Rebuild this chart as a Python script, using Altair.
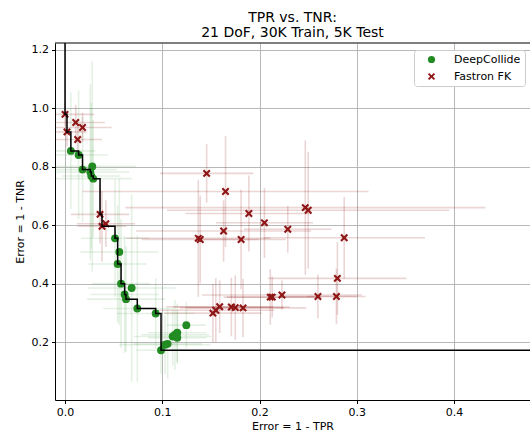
import altair as alt
import pandas as pd

# ---------------- data ----------------
series_names = ["DeepCollide", "Fastron FK"]

dc_x = [0.006, 0.014, 0.018, 0.028, 0.026, 0.027, 0.029, 0.0514, 0.0558, 0.0541, 0.0576, 0.0685,
        0.0613, 0.0627, 0.0743, 0.0932, 0.1247, 0.1154, 0.113, 0.1107, 0.1154, 0.1055, 0.1028, 0.0987]
dc_y = [0.854, 0.840, 0.790, 0.801, 0.782, 0.768, 0.759, 0.555, 0.508, 0.467, 0.400, 0.385,
        0.363, 0.347, 0.315, 0.298, 0.258, 0.232, 0.225, 0.219, 0.215, 0.194, 0.191, 0.172]
dc_xerr = [0.025, 0.03, 0.035, 0.045, 0.04, 0.03, 0.04, 0.035, 0.04, 0.03, 0.03, 0.045,
           0.035, 0.04, 0.035, 0.04, 0.02, 0.03, 0.035, 0.04, 0.03, 0.035, 0.047, 0.025]
dc_yerr = [0.20, 0.22, 0.18, 0.36, 0.30, 0.25, 0.20, 0.20, 0.25, 0.20, 0.22, 0.32,
           0.20, 0.18, 0.25, 0.12, 0.08, 0.10, 0.12, 0.10, 0.09, 0.12, 0.10, 0.08]

ff_x = [0.000, 0.002, 0.011, 0.018, 0.013, 0.036, 0.038, 0.042, 0.1456, 0.165, 0.189, 0.205,
        0.247, 0.250, 0.163, 0.229, 0.137, 0.139, 0.181, 0.287, 0.280, 0.211, 0.213, 0.223,
        0.260, 0.279, 0.152, 0.155, 0.159, 0.171, 0.175, 0.183]
ff_y = [0.979, 0.919, 0.951, 0.934, 0.893, 0.637, 0.596, 0.605, 0.777, 0.715, 0.640, 0.608,
        0.660, 0.651, 0.580, 0.586, 0.555, 0.551, 0.551, 0.557, 0.418, 0.354, 0.354, 0.361,
        0.356, 0.356, 0.299, 0.309, 0.321, 0.320, 0.318, 0.317]
ff_xerr = [0.03, 0.02, 0.03, 0.03, 0.025, 0.03, 0.025, 0.03, 0.048, 0.147, 0.065, 0.05,
           0.185, 0.145, 0.09, 0.045, 0.074, 0.06, 0.046, 0.083, 0.071, 0.045, 0.05, 0.082,
           0.04, 0.03, 0.05, 0.06, 0.055, 0.06, 0.05, 0.065]
ff_yerr = [0.04, 0.05, 0.06, 0.05, 0.05, 0.10, 0.12, 0.08, 0.10, 0.19, 0.13, 0.12,
           0.23, 0.20, 0.105, 0.08, 0.20, 0.15, 0.17, 0.14, 0.125, 0.095, 0.07, 0.05,
           0.075, 0.095, 0.10, 0.11, 0.09, 0.10, 0.11, 0.10]

x_ticks = [0.0, 0.1, 0.2, 0.3, 0.4]
y_ticks = [0.2, 0.4, 0.6, 0.8, 1.0, 1.2]

# ---------------- tables ----------------
rows = []
for s, xs, ys, xe, ye in [(series_names[0], dc_x, dc_y, dc_xerr, dc_yerr),
                          (series_names[1], ff_x, ff_y, ff_xerr, ff_yerr)]:
    for a, b, c, d in zip(xs, ys, xe, ye):
        rows.append({"series": s, "x": a, "y": b,
                     "xlo": a - c, "xhi": a + c, "ylo": b - d, "yhi": b + d})
df = pd.DataFrame(rows)

# Pareto front (non-dominated points), drawn as a post-step line
pts = sorted(zip(dc_x + ff_x, dc_y + ff_y))
front = []
best = float("inf")
for a, b in pts:
    if b < best:
        front.append((a, b))
        best = b
line_pts = [(front[0][0], 1.6)] + front + [(0.7, front[-1][1])]
front_df = pd.DataFrame({"x": [p[0] for p in line_pts],
                         "y": [p[1] for p in line_pts],
                         "order": list(range(len(line_pts)))})

XDOM = [-0.0103, 0.478]
YDOM = [0.002, 1.223]
FONT = "DejaVu Sans"
GREEN = "#228b22"
RED = "#8f1616"
XPATH = "M-0.62,-1L0,-0.38L0.62,-1L1,-0.62L0.38,0L1,0.62L0.62,1L0,0.38L-0.62,1L-1,0.62L-0.38,0L-1,-0.62Z"

xscale = alt.Scale(domain=XDOM, nice=False, zero=False)
yscale = alt.Scale(domain=YDOM, nice=False, zero=False)
cscale = alt.Scale(domain=series_names, range=[GREEN, RED])
sscale = alt.Scale(domain=series_names, range=["circle", XPATH])

legend = alt.Legend(title=None, orient="none", legendX=359, legendY=7,
                    labelFont=FONT, labelFontSize=11, labelColor="black",
                    symbolSize=52, padding=4, symbolOffset=8,
                    labelOffset=17, rowPadding=5, symbolOpacity=1,
                    fillColor="white", strokeColor="#cccccc",
                    cornerRadius=3, symbolStrokeWidth=0)

base = alt.Chart(df)


def bars(name, colour, alpha, with_axes):
    sub = base.transform_filter(alt.datum.series == name)
    if with_axes:
        xenc = alt.X("xlo:Q", scale=xscale,
                     axis=alt.Axis(values=x_ticks, format=".1f", title="Error = 1 - TPR"))
        yenc = alt.Y("y:Q", scale=yscale,
                     axis=alt.Axis(values=y_ticks, format=".1f", title="Error = 1 - TNR"))
    else:
        xenc = alt.X("xlo:Q", scale=xscale)
        yenc = alt.Y("y:Q", scale=yscale)
    hb = sub.mark_rule(strokeWidth=1.6, clip=True, color=colour, opacity=alpha).encode(
        x=xenc, x2="xhi:Q", y=yenc)
    vb = sub.mark_rule(strokeWidth=1.6, clip=True, color=colour, opacity=alpha).encode(
        x=alt.X("x:Q", scale=xscale), y=alt.Y("ylo:Q", scale=yscale), y2="yhi:Q")
    return [hb, vb]


layers = bars(series_names[0], GREEN, 0.12, True) + bars(series_names[1], RED, 0.18, False)

points = base.mark_point(filled=True, opacity=1, size=62).encode(
    x=alt.X("x:Q", scale=xscale),
    y=alt.Y("y:Q", scale=yscale),
    color=alt.Color("series:N", scale=cscale, legend=legend),
    shape=alt.Shape("series:N", scale=sscale, legend=legend),
)

step = alt.Chart(front_df).mark_line(color="black", strokeWidth=1.5, interpolate="step-after",
                                     clip=True).encode(
    x=alt.X("x:Q", scale=xscale),
    y=alt.Y("y:Q", scale=yscale),
    order="order:Q",
)

top_spine = alt.Chart(pd.DataFrame({"k": [0]})).mark_rule(color="black", strokeWidth=1).encode(
    x=alt.value(0), x2=alt.value(475), y=alt.value(0)
)

chart = alt.layer(*layers, points, step, top_spine).properties(
    width=475, height=357,
    autosize=alt.AutoSizeParams(type="none"),
    padding={"left": 55, "top": 43, "right": 0, "bottom": 35},
    title=alt.TitleParams(text=["TPR vs. TNR:", "21 DoF, 30K Train, 5K Test"],
                          font=FONT, fontSize=14, fontWeight="normal", color="black",
                          anchor="middle", offset=3, lineHeight=15),
).configure_view(stroke=None).configure_axis(
    labelFont=FONT, labelFontSize=11, labelColor="black",
    titleFont=FONT, titleFontSize=11, titleFontWeight="normal", titleColor="black",
    domainColor="black", domainWidth=1, tickColor="black", tickSize=3.5, tickWidth=1,
    gridColor="#b0b0b0", gridWidth=0.9, gridOpacity=1, labelPadding=3,
).configure_axisX(titlePadding=3).configure_axisY(titlePadding=6, labelFlush=False)

chart.save("out.html", embed_options={"renderer": "svg", "actions": False})
